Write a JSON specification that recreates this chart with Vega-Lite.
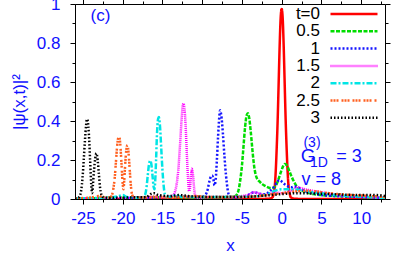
{
  "$schema": "https://vega.github.io/schema/vega-lite/v6.json",
  "autosize": "none",
  "width": 310,
  "height": 195,
  "padding": {"left": 75, "top": 4, "right": 14, "bottom": 57},
  "background": "white",
  "config": {
    "font": "Liberation Sans",
    "view": {"stroke": "black", "strokeWidth": 1},
    "axis": {
      "grid": false,
      "domainColor": "black",
      "tickColor": "black",
      "labelColor": "#1010ff",
      "labelFont": "Liberation Sans",
      "labelFontSize": 17,
      "titleColor": "#1010ff",
      "titleFont": "Liberation Sans",
      "titleFontSize": 17,
      "titleFontWeight": "normal"
    },
    "text": {"font": "Liberation Sans"}
  },
  "datasets": {
    "curves": [
      {"t": "t=0", "x": -26, "y": 0}, {"t": "t=0", "x": -10, "y": 0}, {"t": "t=0", "x": -3, "y": 0}, {"t": "t=0", "x": -1.5, "y": 0.002}, {"t": "t=0", "x": -1.125, "y": 0.01}, {"t": "t=0", "x": -1, "y": 0.03}, {"t": "t=0", "x": -0.875, "y": 0.06}, {"t": "t=0", "x": -0.75, "y": 0.14}, {"t": "t=0", "x": -0.625, "y": 0.26}, {"t": "t=0", "x": -0.5, "y": 0.41}, {"t": "t=0", "x": -0.375, "y": 0.6}, {"t": "t=0", "x": -0.25, "y": 0.79}, {"t": "t=0", "x": -0.125, "y": 0.93}, {"t": "t=0", "x": 0, "y": 0.975}, {"t": "t=0", "x": 0.125, "y": 0.93}, {"t": "t=0", "x": 0.25, "y": 0.79}, {"t": "t=0", "x": 0.375, "y": 0.6}, {"t": "t=0", "x": 0.5, "y": 0.41}, {"t": "t=0", "x": 0.625, "y": 0.26}, {"t": "t=0", "x": 0.75, "y": 0.14}, {"t": "t=0", "x": 0.875, "y": 0.06}, {"t": "t=0", "x": 1, "y": 0.03}, {"t": "t=0", "x": 1.125, "y": 0.01}, {"t": "t=0", "x": 1.5, "y": 0.002}, {"t": "t=0", "x": 3, "y": 0}, {"t": "t=0", "x": 13, "y": 0},

      {"t": "0.5", "x": -26, "y": 0.003}, {"t": "0.5", "x": -22, "y": 0.005}, {"t": "0.5", "x": -18, "y": 0.008}, {"t": "0.5", "x": -14, "y": 0.01}, {"t": "0.5", "x": -10, "y": 0.008}, {"t": "0.5", "x": -7, "y": 0.01}, {"t": "0.5", "x": -6, "y": 0.012}, {"t": "0.5", "x": -5.6, "y": 0.025}, {"t": "0.5", "x": -5.4, "y": 0.05}, {"t": "0.5", "x": -5.2, "y": 0.1}, {"t": "0.5", "x": -5, "y": 0.17}, {"t": "0.5", "x": -4.8, "y": 0.27}, {"t": "0.5", "x": -4.6, "y": 0.37}, {"t": "0.5", "x": -4.4, "y": 0.43}, {"t": "0.5", "x": -4.25, "y": 0.44}, {"t": "0.5", "x": -4.1, "y": 0.42}, {"t": "0.5", "x": -3.9, "y": 0.35}, {"t": "0.5", "x": -3.7, "y": 0.26}, {"t": "0.5", "x": -3.5, "y": 0.18}, {"t": "0.5", "x": -3.3, "y": 0.13}, {"t": "0.5", "x": -3.1, "y": 0.105}, {"t": "0.5", "x": -2.8, "y": 0.09}, {"t": "0.5", "x": -2.4, "y": 0.075}, {"t": "0.5", "x": -2, "y": 0.065}, {"t": "0.5", "x": -1.6, "y": 0.058}, {"t": "0.5", "x": -1.2, "y": 0.056}, {"t": "0.5", "x": -0.8, "y": 0.065}, {"t": "0.5", "x": -0.5, "y": 0.09}, {"t": "0.5", "x": -0.25, "y": 0.12}, {"t": "0.5", "x": 0, "y": 0.15}, {"t": "0.5", "x": 0.2, "y": 0.17}, {"t": "0.5", "x": 0.4, "y": 0.18}, {"t": "0.5", "x": 0.6, "y": 0.175}, {"t": "0.5", "x": 0.8, "y": 0.16}, {"t": "0.5", "x": 1, "y": 0.14}, {"t": "0.5", "x": 1.3, "y": 0.11}, {"t": "0.5", "x": 1.6, "y": 0.085}, {"t": "0.5", "x": 2, "y": 0.06}, {"t": "0.5", "x": 2.5, "y": 0.045}, {"t": "0.5", "x": 3, "y": 0.035}, {"t": "0.5", "x": 4, "y": 0.025}, {"t": "0.5", "x": 5, "y": 0.02}, {"t": "0.5", "x": 7, "y": 0.015}, {"t": "0.5", "x": 10, "y": 0.01}, {"t": "0.5", "x": 13, "y": 0.005},

      {"t": "1", "x": -26, "y": 0.003}, {"t": "1", "x": -20, "y": 0.005}, {"t": "1", "x": -14, "y": 0.01}, {"t": "1", "x": -12, "y": 0.012}, {"t": "1", "x": -10.5, "y": 0.01}, {"t": "1", "x": -10, "y": 0.01}, {"t": "1", "x": -9.6, "y": 0.02}, {"t": "1", "x": -9.3, "y": 0.05}, {"t": "1", "x": -9.1, "y": 0.09}, {"t": "1", "x": -8.9, "y": 0.115}, {"t": "1", "x": -8.75, "y": 0.12}, {"t": "1", "x": -8.6, "y": 0.105}, {"t": "1", "x": -8.45, "y": 0.07}, {"t": "1", "x": -8.3, "y": 0.1}, {"t": "1", "x": -8.15, "y": 0.2}, {"t": "1", "x": -8, "y": 0.32}, {"t": "1", "x": -7.85, "y": 0.42}, {"t": "1", "x": -7.75, "y": 0.455}, {"t": "1", "x": -7.6, "y": 0.43}, {"t": "1", "x": -7.4, "y": 0.34}, {"t": "1", "x": -7.2, "y": 0.22}, {"t": "1", "x": -7, "y": 0.12}, {"t": "1", "x": -6.8, "y": 0.05}, {"t": "1", "x": -6.6, "y": 0.015}, {"t": "1", "x": -6.3, "y": 0.006}, {"t": "1", "x": -5.5, "y": 0.008}, {"t": "1", "x": -4.5, "y": 0.015}, {"t": "1", "x": -4, "y": 0.025}, {"t": "1", "x": -3.5, "y": 0.035}, {"t": "1", "x": -3, "y": 0.03}, {"t": "1", "x": -2.5, "y": 0.025}, {"t": "1", "x": -2, "y": 0.025}, {"t": "1", "x": -1.5, "y": 0.04}, {"t": "1", "x": -1, "y": 0.06}, {"t": "1", "x": -0.6, "y": 0.085}, {"t": "1", "x": -0.3, "y": 0.097}, {"t": "1", "x": 0, "y": 0.09}, {"t": "1", "x": 0.4, "y": 0.075}, {"t": "1", "x": 0.8, "y": 0.065}, {"t": "1", "x": 1.2, "y": 0.06}, {"t": "1", "x": 1.6, "y": 0.065}, {"t": "1", "x": 2, "y": 0.06}, {"t": "1", "x": 2.5, "y": 0.05}, {"t": "1", "x": 3, "y": 0.04}, {"t": "1", "x": 4, "y": 0.03}, {"t": "1", "x": 5, "y": 0.02}, {"t": "1", "x": 7, "y": 0.015}, {"t": "1", "x": 10, "y": 0.01}, {"t": "1", "x": 13, "y": 0.005},

      {"t": "1.5", "x": -26, "y": 0.003}, {"t": "1.5", "x": -20, "y": 0.005}, {"t": "1.5", "x": -16, "y": 0.01}, {"t": "1.5", "x": -14.5, "y": 0.01}, {"t": "1.5", "x": -14, "y": 0.015}, {"t": "1.5", "x": -13.6, "y": 0.02}, {"t": "1.5", "x": -13.4, "y": 0.04}, {"t": "1.5", "x": -13.2, "y": 0.08}, {"t": "1.5", "x": -13, "y": 0.15}, {"t": "1.5", "x": -12.8, "y": 0.27}, {"t": "1.5", "x": -12.6, "y": 0.4}, {"t": "1.5", "x": -12.45, "y": 0.475}, {"t": "1.5", "x": -12.35, "y": 0.49}, {"t": "1.5", "x": -12.25, "y": 0.47}, {"t": "1.5", "x": -12.1, "y": 0.39}, {"t": "1.5", "x": -11.95, "y": 0.25}, {"t": "1.5", "x": -11.8, "y": 0.12}, {"t": "1.5", "x": -11.65, "y": 0.04}, {"t": "1.5", "x": -11.55, "y": 0.05}, {"t": "1.5", "x": -11.45, "y": 0.1}, {"t": "1.5", "x": -11.3, "y": 0.155}, {"t": "1.5", "x": -11.15, "y": 0.12}, {"t": "1.5", "x": -11, "y": 0.05}, {"t": "1.5", "x": -10.85, "y": 0.015}, {"t": "1.5", "x": -10.5, "y": 0.006}, {"t": "1.5", "x": -9, "y": 0.01}, {"t": "1.5", "x": -7, "y": 0.01}, {"t": "1.5", "x": -5, "y": 0.015}, {"t": "1.5", "x": -4, "y": 0.025}, {"t": "1.5", "x": -3.5, "y": 0.035}, {"t": "1.5", "x": -3, "y": 0.03}, {"t": "1.5", "x": -2, "y": 0.02}, {"t": "1.5", "x": -1, "y": 0.035}, {"t": "1.5", "x": 0, "y": 0.03}, {"t": "1.5", "x": 1, "y": 0.04}, {"t": "1.5", "x": 1.5, "y": 0.05}, {"t": "1.5", "x": 2, "y": 0.06}, {"t": "1.5", "x": 2.5, "y": 0.055}, {"t": "1.5", "x": 3.5, "y": 0.045}, {"t": "1.5", "x": 5, "y": 0.035}, {"t": "1.5", "x": 7, "y": 0.02}, {"t": "1.5", "x": 10, "y": 0.012}, {"t": "1.5", "x": 13, "y": 0.005},

      {"t": "2", "x": -26, "y": 0.003}, {"t": "2", "x": -22, "y": 0.008}, {"t": "2", "x": -20.5, "y": 0.015}, {"t": "2", "x": -20, "y": 0.02}, {"t": "2", "x": -19.5, "y": 0.01}, {"t": "2", "x": -18, "y": 0.006}, {"t": "2", "x": -17.5, "y": 0.008}, {"t": "2", "x": -17.2, "y": 0.02}, {"t": "2", "x": -17, "y": 0.06}, {"t": "2", "x": -16.85, "y": 0.12}, {"t": "2", "x": -16.7, "y": 0.175}, {"t": "2", "x": -16.55, "y": 0.197}, {"t": "2", "x": -16.4, "y": 0.18}, {"t": "2", "x": -16.25, "y": 0.12}, {"t": "2", "x": -16.1, "y": 0.06}, {"t": "2", "x": -16, "y": 0.05}, {"t": "2", "x": -15.9, "y": 0.1}, {"t": "2", "x": -15.8, "y": 0.2}, {"t": "2", "x": -15.7, "y": 0.32}, {"t": "2", "x": -15.55, "y": 0.41}, {"t": "2", "x": -15.45, "y": 0.42}, {"t": "2", "x": -15.3, "y": 0.37}, {"t": "2", "x": -15.15, "y": 0.26}, {"t": "2", "x": -15, "y": 0.15}, {"t": "2", "x": -14.85, "y": 0.07}, {"t": "2", "x": -14.7, "y": 0.025}, {"t": "2", "x": -14.5, "y": 0.01}, {"t": "2", "x": -13.8, "y": 0.015}, {"t": "2", "x": -13.3, "y": 0.02}, {"t": "2", "x": -12.5, "y": 0.01}, {"t": "2", "x": -10, "y": 0.01}, {"t": "2", "x": -7, "y": 0.01}, {"t": "2", "x": -4, "y": 0.012}, {"t": "2", "x": -2, "y": 0.02}, {"t": "2", "x": -1, "y": 0.04}, {"t": "2", "x": 0, "y": 0.05}, {"t": "2", "x": 1, "y": 0.05}, {"t": "2", "x": 2, "y": 0.048}, {"t": "2", "x": 3, "y": 0.04}, {"t": "2", "x": 4, "y": 0.035}, {"t": "2", "x": 5, "y": 0.03}, {"t": "2", "x": 7, "y": 0.02}, {"t": "2", "x": 10, "y": 0.012}, {"t": "2", "x": 13, "y": 0.005},

      {"t": "2.5", "x": -26, "y": 0.003}, {"t": "2.5", "x": -24, "y": 0.008}, {"t": "2.5", "x": -23, "y": 0.015}, {"t": "2.5", "x": -22.5, "y": 0.01}, {"t": "2.5", "x": -21.6, "y": 0.008}, {"t": "2.5", "x": -21.35, "y": 0.02}, {"t": "2.5", "x": -21.15, "y": 0.06}, {"t": "2.5", "x": -21, "y": 0.11}, {"t": "2.5", "x": -20.85, "y": 0.19}, {"t": "2.5", "x": -20.7, "y": 0.27}, {"t": "2.5", "x": -20.55, "y": 0.315}, {"t": "2.5", "x": -20.45, "y": 0.32}, {"t": "2.5", "x": -20.3, "y": 0.28}, {"t": "2.5", "x": -20.15, "y": 0.18}, {"t": "2.5", "x": -20, "y": 0.08}, {"t": "2.5", "x": -19.9, "y": 0.05}, {"t": "2.5", "x": -19.8, "y": 0.1}, {"t": "2.5", "x": -19.65, "y": 0.2}, {"t": "2.5", "x": -19.5, "y": 0.265}, {"t": "2.5", "x": -19.4, "y": 0.277}, {"t": "2.5", "x": -19.25, "y": 0.23}, {"t": "2.5", "x": -19.1, "y": 0.14}, {"t": "2.5", "x": -18.95, "y": 0.06}, {"t": "2.5", "x": -18.8, "y": 0.02}, {"t": "2.5", "x": -18.5, "y": 0.008}, {"t": "2.5", "x": -17, "y": 0.008}, {"t": "2.5", "x": -16, "y": 0.012}, {"t": "2.5", "x": -14, "y": 0.008}, {"t": "2.5", "x": -12, "y": 0.012}, {"t": "2.5", "x": -11, "y": 0.015}, {"t": "2.5", "x": -9, "y": 0.01}, {"t": "2.5", "x": -6, "y": 0.01}, {"t": "2.5", "x": -3, "y": 0.015}, {"t": "2.5", "x": -1, "y": 0.025}, {"t": "2.5", "x": 0, "y": 0.03}, {"t": "2.5", "x": 1, "y": 0.035}, {"t": "2.5", "x": 2, "y": 0.04}, {"t": "2.5", "x": 3, "y": 0.042}, {"t": "2.5", "x": 4, "y": 0.04}, {"t": "2.5", "x": 5, "y": 0.035}, {"t": "2.5", "x": 6, "y": 0.03}, {"t": "2.5", "x": 8, "y": 0.022}, {"t": "2.5", "x": 10, "y": 0.018}, {"t": "2.5", "x": 13, "y": 0.01},

      {"t": "3", "x": -26, "y": 0.003}, {"t": "3", "x": -25.6, "y": 0.006}, {"t": "3", "x": -25.35, "y": 0.02}, {"t": "3", "x": -25.2, "y": 0.05}, {"t": "3", "x": -25.05, "y": 0.11}, {"t": "3", "x": -24.9, "y": 0.2}, {"t": "3", "x": -24.75, "y": 0.3}, {"t": "3", "x": -24.6, "y": 0.38}, {"t": "3", "x": -24.5, "y": 0.41}, {"t": "3", "x": -24.4, "y": 0.4}, {"t": "3", "x": -24.25, "y": 0.33}, {"t": "3", "x": -24.1, "y": 0.2}, {"t": "3", "x": -23.95, "y": 0.07}, {"t": "3", "x": -23.85, "y": 0.03}, {"t": "3", "x": -23.75, "y": 0.07}, {"t": "3", "x": -23.6, "y": 0.15}, {"t": "3", "x": -23.45, "y": 0.21}, {"t": "3", "x": -23.3, "y": 0.234}, {"t": "3", "x": -23.15, "y": 0.2}, {"t": "3", "x": -23, "y": 0.13}, {"t": "3", "x": -22.85, "y": 0.06}, {"t": "3", "x": -22.7, "y": 0.025}, {"t": "3", "x": -22.5, "y": 0.01}, {"t": "3", "x": -21.5, "y": 0.006}, {"t": "3", "x": -19, "y": 0.008}, {"t": "3", "x": -17, "y": 0.01}, {"t": "3", "x": -16.5, "y": 0.025}, {"t": "3", "x": -16, "y": 0.03}, {"t": "3", "x": -15.5, "y": 0.02}, {"t": "3", "x": -14, "y": 0.015}, {"t": "3", "x": -13, "y": 0.02}, {"t": "3", "x": -11, "y": 0.012}, {"t": "3", "x": -8, "y": 0.01}, {"t": "3", "x": -5, "y": 0.01}, {"t": "3", "x": -2, "y": 0.018}, {"t": "3", "x": 0, "y": 0.025}, {"t": "3", "x": 2, "y": 0.03}, {"t": "3", "x": 4, "y": 0.028}, {"t": "3", "x": 6, "y": 0.025}, {"t": "3", "x": 8, "y": 0.022}, {"t": "3", "x": 10, "y": 0.02}, {"t": "3", "x": 12, "y": 0.02}, {"t": "3", "x": 13, "y": 0.015}
    ]
  },
  "layer": [
    {
      "data": {"name": "curves"},
      "mark": {"type": "line", "interpolate": "monotone", "clip": true},
      "encoding": {
        "x": {
          "field": "x", "type": "quantitative",
          "scale": {"domain": [-26, 13], "nice": false, "zero": false},
          "axis": {
            "orient": "bottom",
            "title": "x",
            "titlePadding": 11,
            "values": [-25, -22.5, -20, -17.5, -15, -12.5, -10, -7.5, -5, -2.5, 0, 2.5, 5, 7.5, 10, 12.5],
            "labelExpr": "datum.value % 5 == 0 ? '' + datum.value : ''",
            "labelPadding": 6,
            "tickSize": {"condition": {"test": "datum.value % 5 == 0", "value": 5}, "value": 3}
          }
        },
        "y": {
          "field": "y", "type": "quantitative",
          "scale": {"domain": [0, 1], "nice": false},
          "axis": {
            "orient": "left",
            "title": "|ψ(x,t)|²",
            "titlePadding": 8,
            "values": [0, 0.1, 0.2, 0.3, 0.4, 0.5, 0.6, 0.7, 0.8, 0.9, 1],
            "labelExpr": "round(datum.value * 10) % 2 == 0 ? '' + round(datum.value * 10) / 10 : ''",
            "labelPadding": 10,
            "tickSize": {"condition": {"test": "round(datum.value * 10) % 2 == 0", "value": 5}, "value": 3}
          }
        },
        "color": {
          "field": "t", "type": "nominal",
          "scale": {
            "domain": ["t=0", "0.5", "1", "1.5", "2", "2.5", "3"],
            "range": ["#ff0000", "#00dd00", "#1515ff", "#ff00ff", "#00e5e5", "#ff6020", "#000000"]
          },
          "sort": null,
          "legend": {
            "orient": "none",
            "legendX": 254,
            "legendY": 2,
            "title": null,
            "symbolType": "stroke",
            "symbolSize": 2209,
            "symbolStrokeWidth": 2.5,
            "labelAlign": "right",
            "labelOffset": -59,
            "labelFontSize": 17,
            "labelColor": "black",
            "labelFont": "Liberation Sans",
            "rowPadding": 0.3,
            "labelLimit": 0,
            "encode": {
              "symbols": {"update": {"y": {"value": 8}}},
              "labels": {"update": {"y": {"value": 8}}}
            }
          }
        },
        "strokeDash": {
          "field": "t", "type": "nominal",
          "scale": {
            "domain": ["t=0", "0.5", "1", "1.5", "2", "2.5", "3"],
            "range": [[1, 0], [4, 1.5], [2, 2], [1, 1], [6, 2, 2, 2], [2, 1, 2, 1, 2, 3], [1.5, 2]]
          },
          "sort": null,
          "legend": {
            "orient": "none",
            "legendX": 254,
            "legendY": 2,
            "title": null,
            "symbolType": "stroke",
            "symbolSize": 2209,
            "symbolStrokeWidth": 2.5,
            "labelAlign": "right",
            "labelOffset": -59,
            "labelFontSize": 17,
            "labelColor": "black",
            "labelFont": "Liberation Sans",
            "rowPadding": 0.3,
            "labelLimit": 0,
            "encode": {
              "symbols": {"update": {"y": {"value": 8}}},
              "labels": {"update": {"y": {"value": 8}}}
            }
          }
        },
        "strokeWidth": {"value": 2.5}
      }
    },
    {
      "data": {"values": [{}]},
      "mark": {"type": "text", "color": "#1010ff", "fontSize": 17, "align": "center", "baseline": "middle"},
      "encoding": {
        "x": {"datum": -22.8, "type": "quantitative", "axis": {"orient": "top", "labels": false, "title": null, "domain": false, "values": [-25, -22.5, -20, -17.5, -15, -12.5, -10, -7.5, -5, -2.5, 0, 2.5, 5, 7.5, 10, 12.5], "tickSize": {"condition": {"test": "datum.value % 5 == 0", "value": 5}, "value": 3}}},
        "y": {"datum": 0.936, "type": "quantitative", "axis": {"orient": "right", "labels": false, "title": null, "domain": false, "values": [0, 0.1, 0.2, 0.3, 0.4, 0.5, 0.6, 0.7, 0.8, 0.9, 1], "tickSize": {"condition": {"test": "round(datum.value * 10) % 2 == 0", "value": 5}, "value": 3}}},
        "text": {"value": "(c)"}
      }
    },
    {
      "data": {"values": [{}]},
      "mark": {"type": "text", "color": "#1010ff", "fontSize": 19, "align": "left", "baseline": "alphabetic"},
      "encoding": {
        "x": {"datum": 2.4, "type": "quantitative", "axis": null},
        "y": {"datum": 0.188, "type": "quantitative", "axis": null},
        "text": {"value": "G"}
      }
    },
    {
      "data": {"values": [{}]},
      "mark": {"type": "text", "color": "#1010ff", "fontSize": 14, "align": "left", "baseline": "alphabetic"},
      "encoding": {
        "x": {"datum": 2.74, "type": "quantitative", "axis": null},
        "y": {"datum": 0.267, "type": "quantitative", "axis": null},
        "text": {"value": "(3)"}
      }
    },
    {
      "data": {"values": [{}]},
      "mark": {"type": "text", "color": "#1010ff", "fontSize": 14, "align": "left", "baseline": "alphabetic"},
      "encoding": {
        "x": {"datum": 3.55, "type": "quantitative", "axis": null},
        "y": {"datum": 0.164, "type": "quantitative", "axis": null},
        "text": {"value": "1D"}
      }
    },
    {
      "data": {"values": [{}]},
      "mark": {"type": "text", "color": "#1010ff", "fontSize": 18, "align": "left", "baseline": "alphabetic"},
      "encoding": {
        "x": {"datum": 6.86, "type": "quantitative", "axis": null},
        "y": {"datum": 0.19, "type": "quantitative", "axis": null},
        "text": {"value": "= 3"}
      }
    },
    {
      "data": {"values": [{}]},
      "mark": {"type": "text", "color": "#1010ff", "fontSize": 18, "align": "left", "baseline": "alphabetic"},
      "encoding": {
        "x": {"datum": 2.49, "type": "quantitative", "axis": null},
        "y": {"datum": 0.072, "type": "quantitative", "axis": null},
        "text": {"value": "v = 8"}
      }
    }
  ],
  "resolve": {"axis": {"x": "independent", "y": "independent"}}
}
